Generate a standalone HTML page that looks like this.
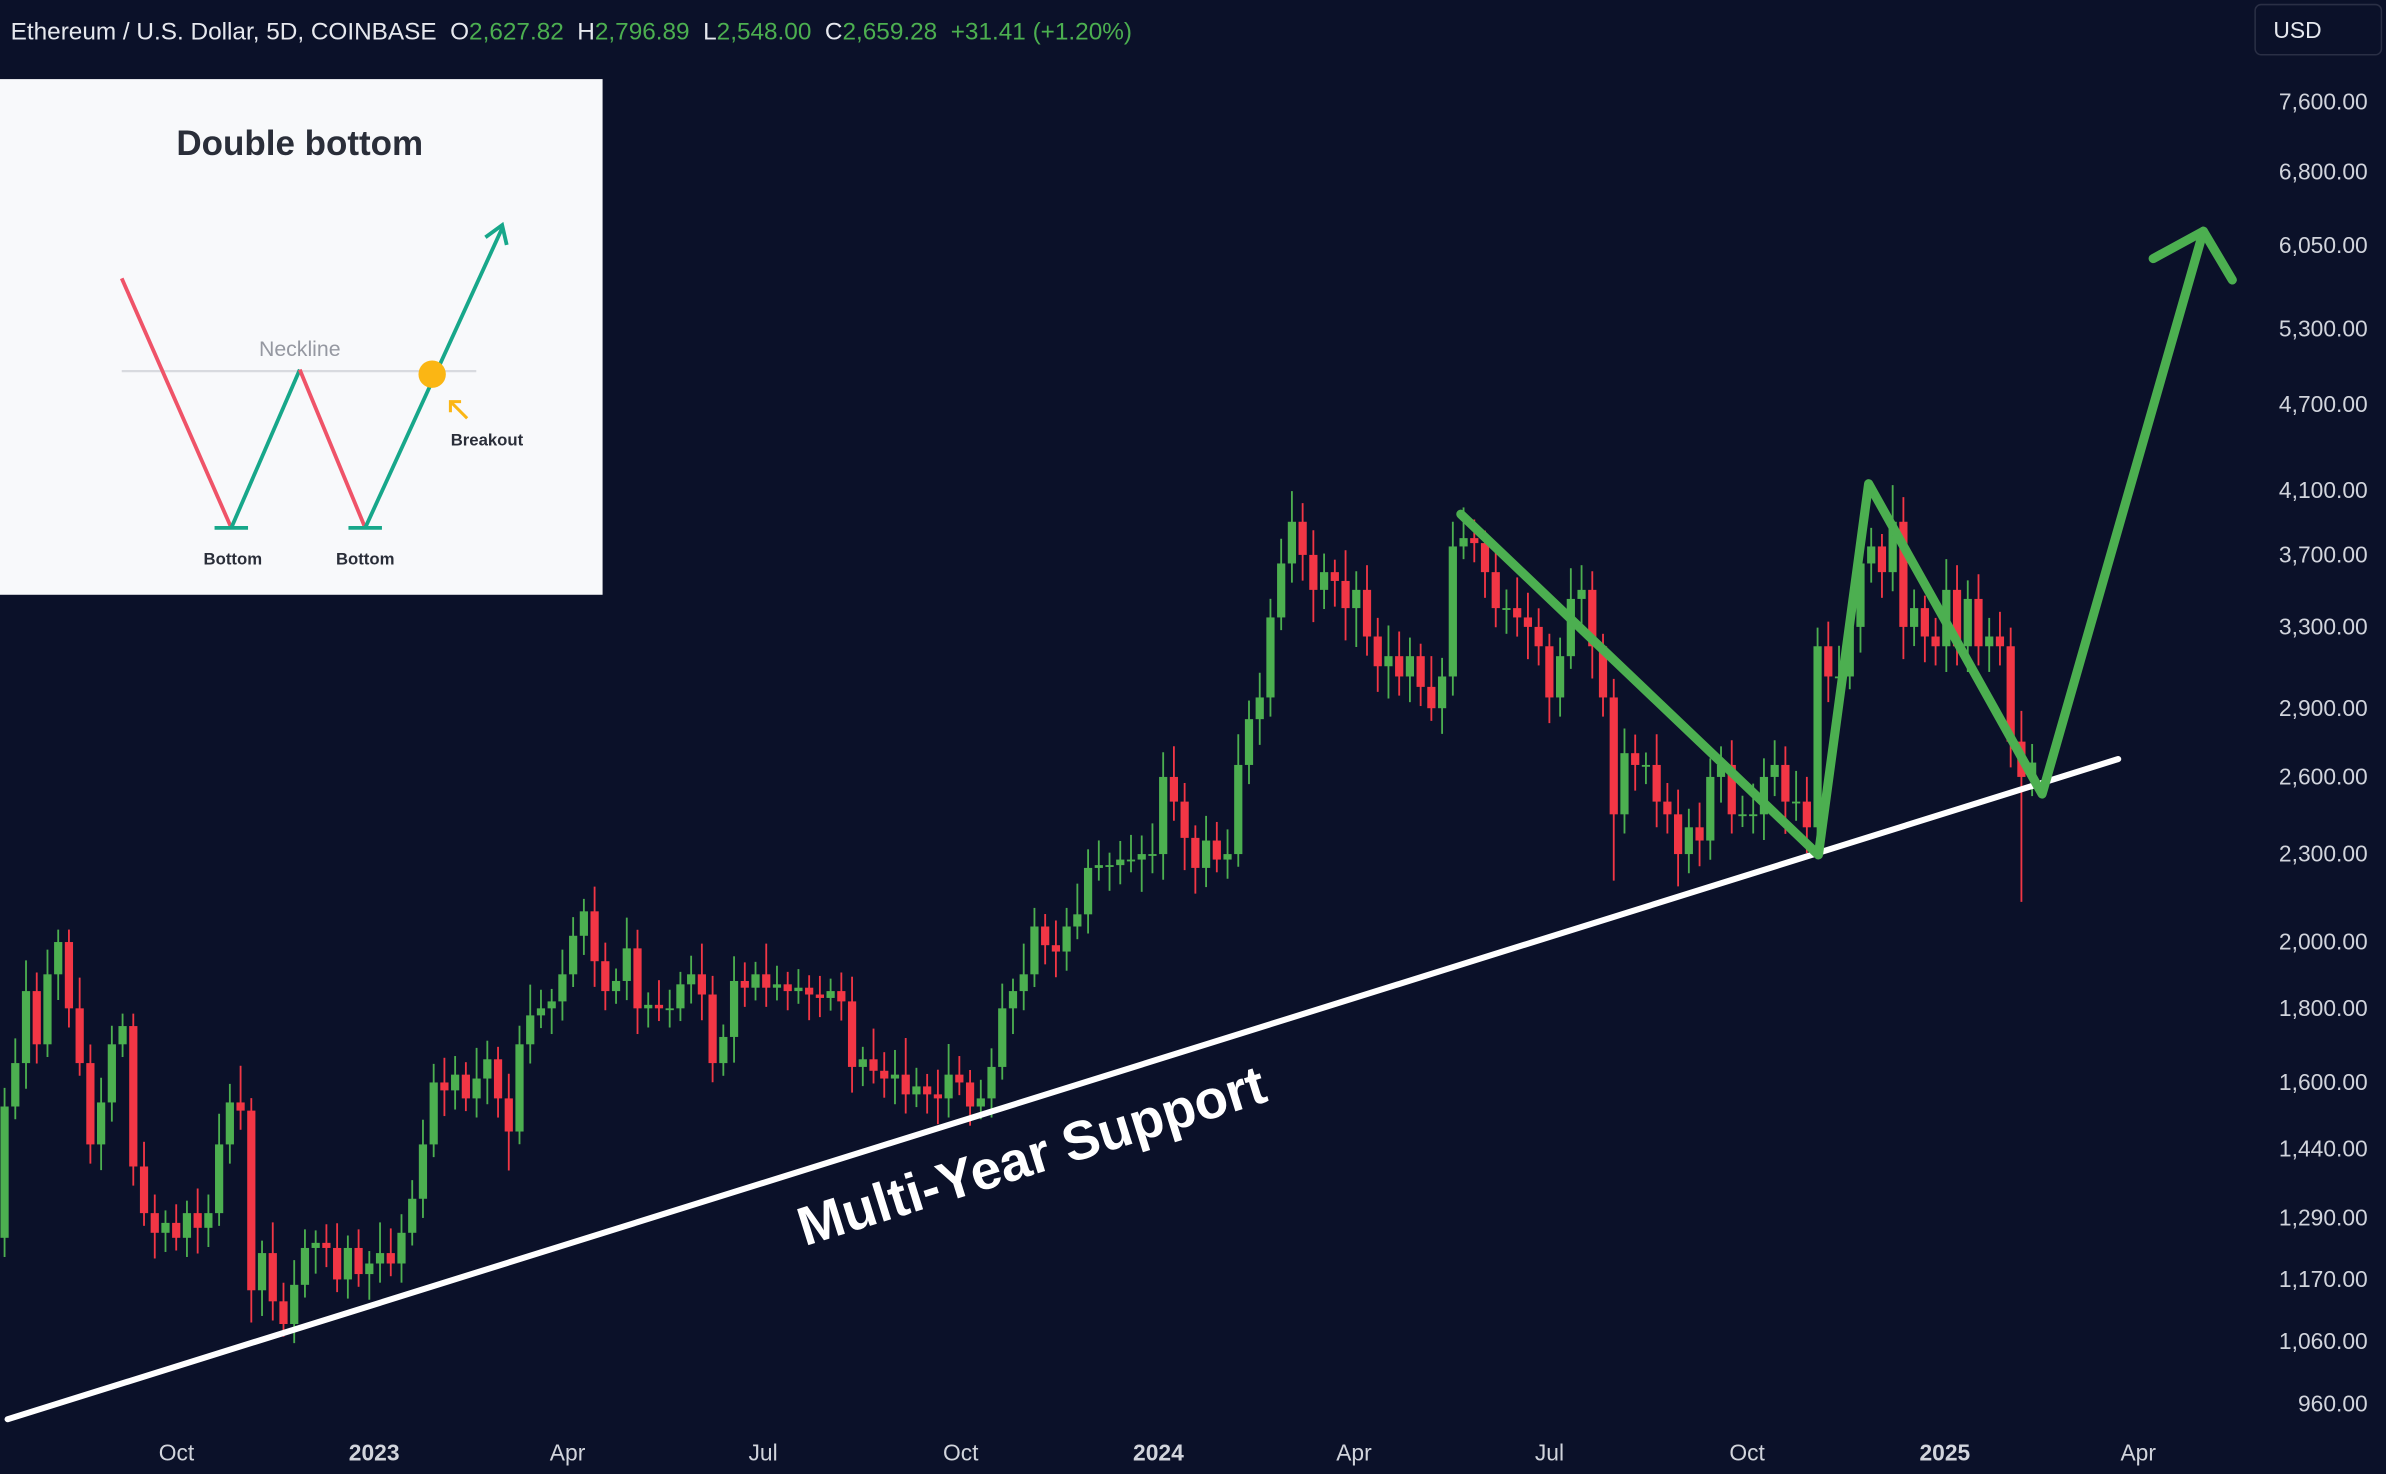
<!DOCTYPE html>
<html><head><meta charset="utf-8"><style>
html,body{margin:0;padding:0;background:#0b1129;}
svg{display:block;font-family:"Liberation Sans",sans-serif;}
</style></head><body>
<svg id="chart" width="2386" height="1474" viewBox="0 0 1568 969" preserveAspectRatio="none" xmlns="http://www.w3.org/2000/svg">
<rect x="0" y="0" width="1568" height="969" fill="#0b1129"/>
<g id="candles"></g>
<g id="yaxis"></g>
<g id="xaxis"></g>
<line x1="5" y1="933" x2="1392" y2="499" stroke="#fff" stroke-width="4" stroke-linecap="round"/>
<text x="678" y="772" fill="#fff" font-size="36" font-weight="bold" text-anchor="middle" transform="rotate(-17.4 678 760)">Multi-Year Support</text>
<polyline points="960,338 1195,562 1228,318 1342,522 1448,152" fill="none" stroke="#4caf50" stroke-width="6" stroke-linejoin="round" stroke-linecap="round"/>
<polyline points="1415,170 1448,152 1467,184" fill="none" stroke="#4caf50" stroke-width="6" stroke-linejoin="round" stroke-linecap="round"/>
<g font-size="16">
<text x="7" y="26" fill="#e6e8ee" xml:space="preserve">Ethereum / U.S. Dollar, 5D, COINBASE  O<tspan fill="#4caf50">2,627.82</tspan>  H<tspan fill="#4caf50">2,796.89</tspan>  L<tspan fill="#4caf50">2,548.00</tspan>  C<tspan fill="#4caf50">2,659.28  +31.41 (+1.20%)</tspan></text>
</g>
<g>
<rect x="1482" y="3" width="83" height="33" rx="4" fill="#0b1129" stroke="#2a2f45"/>
<text x="1494" y="25" fill="#e6e8ee" font-size="15">USD</text>
</g>
<g>
<rect x="0" y="52" width="396" height="339" fill="#f8f9fb"/>
<text x="197" y="102" text-anchor="middle" font-size="23" font-weight="bold" fill="#2a2e39">Double bottom</text>
<line x1="80" y1="244" x2="313" y2="244" stroke="#d8dadf" stroke-width="1.5"/>
<text x="197" y="234" text-anchor="middle" font-size="14" fill="#9598a1">Neckline</text>
<line x1="80" y1="183" x2="152" y2="347" stroke="#ef5368" stroke-width="2.5"/>
<line x1="152" y1="347" x2="197" y2="243" stroke="#17a78a" stroke-width="2.5"/>
<line x1="197" y1="243" x2="240" y2="347" stroke="#ef5368" stroke-width="2.5"/>
<line x1="240" y1="347" x2="330" y2="150" stroke="#17a78a" stroke-width="2.5"/>
<polyline points="319,156 330,148 333,161" fill="none" stroke="#17a78a" stroke-width="2.5"/>
<line x1="141" y1="347" x2="163" y2="347" stroke="#17a78a" stroke-width="2.5"/>
<line x1="229" y1="347" x2="251" y2="347" stroke="#17a78a" stroke-width="2.5"/>
<circle cx="284" cy="246" r="9" fill="#fbb614"/>
<line x1="307" y1="275" x2="296" y2="264" stroke="#fbb614" stroke-width="2"/>
<polyline points="296,271 296,264 303,264" fill="none" stroke="#fbb614" stroke-width="2"/>
<text x="320" y="293" text-anchor="middle" font-size="11" font-weight="bold" fill="#2a2e39">Breakout</text>
<text x="153" y="371" text-anchor="middle" font-size="11" font-weight="bold" fill="#2a2e39">Bottom</text>
<text x="240" y="371" text-anchor="middle" font-size="11" font-weight="bold" fill="#2a2e39">Bottom</text>
</g>
</svg>
<script>
const closes=[1540,1650,1850,1700,1900,2000,1800,1650,1450,1550,1700,1750,1400,1300,1260,1280,1250,1300,1270,1300,
1450,1550,1530,1150,1220,1130,1090,1160,1230,1240,1230,1170,1230,1180,1200,1220,1200,1260,1330,1450,
1600,1580,1620,1560,1610,1660,1560,1480,1700,1780,1800,1820,1900,2020,2100,1940,1850,1880,1980,1800,
1810,1800,1800,1870,1900,1840,1650,1720,1880,1860,1900,1860,1870,1850,1860,1840,1830,1850,1820,1640,
1660,1630,1610,1620,1570,1590,1570,1560,1620,1600,1540,1560,1640,1800,1850,1900,2050,1990,1970,2050,
2090,2250,2260,2260,2280,2280,2300,2300,2600,2500,2360,2250,2350,2280,2300,2650,2850,2950,3350,3650,
3900,3700,3500,3600,3550,3400,3500,3250,3100,3150,3050,3150,3000,2900,3050,3750,3800,3770,3600,3400,
3400,3350,3300,3200,2950,3150,3450,3500,3200,2950,2450,2700,2650,2650,2500,2450,2300,2400,2350,2600,
2650,2450,2450,2450,2600,2650,2500,2500,2400,3200,3050,3050,3300,3650,3750,3600,3900,3300,3400,3250,
3200,3500,3200,3450,3200,3250,3200,2750,2600,2660];
const wickUp=[3,4,5,3,4,2,2,5,3,4,3,2,2,4,3,2,3,2,4,3,5,3,6,2,2,5,3,4,3,2,3,4,2,3,2,5,4,3,3,4,
3,4,3,2,5,3,2,4,3,5,3,2,4,3,2,4,3,2,5,3,2,4,3,2,3,5,3,2,4,3,2,5,3,2,3,2,3,2,3,4,
2,5,3,4,6,3,2,4,5,3,2,3,3,4,2,5,3,2,4,3,5,3,4,2,3,4,3,5,4,5,3,2,4,3,4,5,3,4,3,4,
5,3,4,3,2,5,3,4,3,5,4,3,2,5,3,4,5,3,2,4,3,5,4,3,2,3,5,4,3,2,3,4,3,2,5,3,4,3,4,3,
3,4,3,5,3,4,3,5,4,3,4,5,3,4,3,2,6,4,3,2,3,5,4,3,4,3,4,3,5,3];
const wickDn=[3,2,4,3,2,4,3,2,3,4,3,2,3,2,4,3,2,3,4,3,2,3,3,5,4,3,2,3,2,4,3,2,3,2,4,3,2,3,2,3,
2,4,3,2,3,4,3,6,2,3,2,4,3,2,3,4,3,2,3,4,3,2,3,2,3,4,3,2,4,3,2,3,2,3,2,4,3,2,3,4,
3,2,3,4,3,2,3,4,3,2,3,2,3,2,4,3,2,3,4,3,2,3,2,4,3,2,5,3,4,3,5,4,3,2,3,2,3,4,3,2,
3,4,5,3,4,5,6,3,4,5,3,4,3,2,4,3,2,3,4,3,4,3,5,3,4,3,2,4,5,3,10,3,4,3,4,3,5,3,4,3,
4,3,2,3,4,3,5,3,4,3,4,3,2,4,3,4,3,5,3,4,3,4,3,4,3,4,3,4,18,3];
const firstOpen=1250;
const priceTicks=[7600,6800,6050,5300,4700,4100,3700,3300,2900,2600,2300,2000,1800,1600,1440,1290,1170,1060,960];
const timeLabels=["Oct","2023","Apr","Jul","Oct","2024","Apr","Jul","Oct","2025","Apr"];
const timeDays=[0,92,182,273,365,457,548,639,731,823,913];
const boldLabels=["2023","2024","2025"];

const NS="http://www.w3.org/2000/svg";
const yTop=67,lnTop=Math.log(7600),pxPerLn=413.7;
function yScale(p){return yTop+(lnTop-Math.log(p))*pxPerLn;}
const x0=3,step=7.05;
function xIndex(i){return x0+step*i;}
const dayPx=1.412,octX=116;
function xDay(d){return octX+d*dayPx;}

const cg=document.getElementById('candles');
for(let i=0;i<closes.length;i++){
  const o=i===0?firstOpen:closes[i-1],c=closes[i];
  const hi=Math.max(o,c)*(1+wickUp[i]/100),lo=Math.min(o,c)*(1-wickDn[i]/100);
  const col=c>=o?'#4caf50':'#f23645';
  const x=xIndex(i);
  const g=document.createElementNS(NS,'g');
  
  
  const w=document.createElementNS(NS,'line');
  w.setAttribute('x1',x);w.setAttribute('x2',x);
  w.setAttribute('y1',yScale(hi));w.setAttribute('y2',yScale(lo));
  w.setAttribute('stroke',col);w.setAttribute('stroke-width','1.2');
  const b=document.createElementNS(NS,'rect');
  const yt=yScale(Math.max(o,c)),yb=yScale(Math.min(o,c));
  b.setAttribute('x',x-2.7);b.setAttribute('width',5.4);
  b.setAttribute('y',yt);b.setAttribute('height',Math.max(1.2,yb-yt));
  b.setAttribute('fill',col);
  g.appendChild(w);g.appendChild(b);cg.appendChild(g);
}
const ya=document.getElementById('yaxis');
priceTicks.forEach(p=>{
  const t=document.createElementNS(NS,'text');
  
  
  t.setAttribute('x',1556);t.setAttribute('y',yScale(p)+5);
  t.setAttribute('text-anchor','end');t.setAttribute('font-size','15');
  t.setAttribute('fill','#d1d4dc');
  t.textContent=p.toLocaleString('en-US',{minimumFractionDigits:2});
  ya.appendChild(t);
});
const xa=document.getElementById('xaxis');
timeLabels.forEach((l,i)=>{
  const t=document.createElementNS(NS,'text');
  
  
  t.setAttribute('x',xDay(timeDays[i]));t.setAttribute('y',960);
  t.setAttribute('text-anchor','middle');t.setAttribute('font-size','15');
  t.setAttribute('fill','#d1d4dc');
  if(boldLabels.includes(l))t.setAttribute('font-weight','bold');
  t.textContent=l;xa.appendChild(t);
});
</script>
</body></html>
